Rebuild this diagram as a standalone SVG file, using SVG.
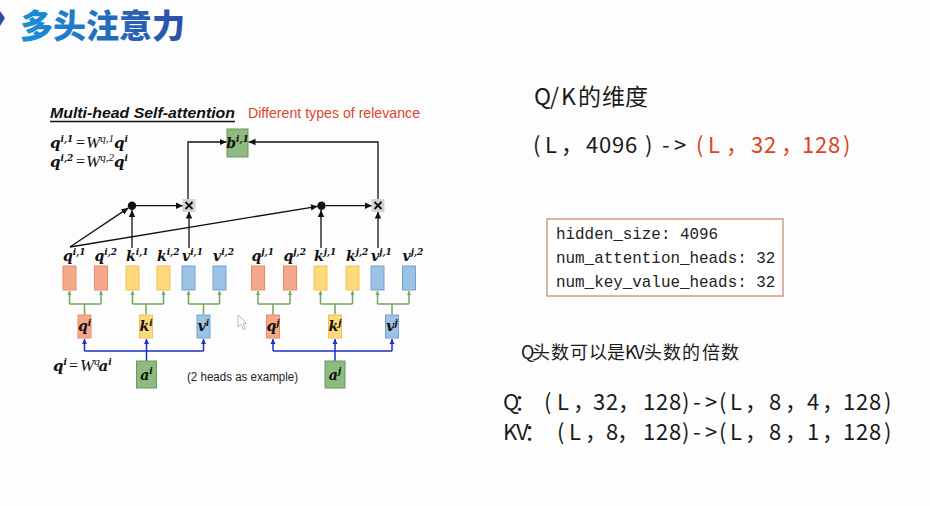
<svg xmlns="http://www.w3.org/2000/svg" width="930" height="506" viewBox="0 0 930 506">
<defs>
<linearGradient id="tg" x1="20" y1="0" x2="186" y2="0" gradientUnits="userSpaceOnUse"><stop offset="0" stop-color="#1a8fd8"/><stop offset="1" stop-color="#2c4ea6"/></linearGradient>
<marker id="ak" markerUnits="userSpaceOnUse" markerWidth="8" markerHeight="8" refX="7" refY="4" orient="auto"><path d="M0,0.8 L7,4 L0,7.2 Z" fill="#111"/></marker>
<marker id="ag" markerUnits="userSpaceOnUse" markerWidth="5" markerHeight="5" refX="4" refY="2.5" orient="auto"><path d="M0,0.5 L4,2.5 L0,4.5 Z" fill="#77a55e"/></marker>
<marker id="ab" markerUnits="userSpaceOnUse" markerWidth="6" markerHeight="6" refX="5" refY="3" orient="auto"><path d="M0,0.5 L5,3 L0,5.5 Z" fill="#1c2fc4"/></marker>
</defs>
<style>
.m{font-family:"DejaVu Serif","Liberation Serif",serif;font-weight:bold;font-style:italic;font-size:14px;fill:#111}
.f{font-size:15px}
.s{font-size:9px}
.w{font-family:"Liberation Serif",serif;font-weight:normal;font-size:17px}
.ws{font-family:"Liberation Serif",serif;font-weight:normal;font-size:11px}
.eq{font-family:"Liberation Serif",serif;font-style:normal;font-weight:normal;font-size:16px}
.qb{fill:#f5a98a;stroke:#e88c66;stroke-width:1}
.kb{fill:#ffd97c;stroke:#efc25a;stroke-width:1}
.vb{fill:#9cc2e6;stroke:#74a2d2;stroke-width:1}
.gb{fill:#8dba7e;stroke:#6b9a5d;stroke-width:1}
.xb{fill:#d3d3d3}
.ck{fill:none;stroke:#111;stroke-width:1.3}
.cg{fill:none;stroke:#77a55e;stroke-width:1.5}
.cb{fill:none;stroke:#1c2fc4;stroke-width:1.5}
.cjk{font-family:"Noto Sans CJK SC","Noto Sans",sans-serif;fill:#1a1a1a}
.mono{font-family:"Liberation Mono","DejaVu Sans Mono",monospace;font-size:15.9px;fill:#222}
.red{fill:#e0421c}
</style>
<rect width="930" height="506" fill="#fdfdfd"/>

<g id="header">
<path d="M0,11 L5,18 L0,26 Z" fill="#2c4ea6"/>
<text x="20" y="38" font-family="Noto Sans CJK SC, sans-serif" font-weight="900" font-size="33" fill="url(#tg)">多头注意力</text>
</g>

<g id="captions">
<text x="50" y="118" font-family="Liberation Sans, Arial, sans-serif" font-weight="bold" font-style="italic" font-size="15" fill="#111" textLength="185" lengthAdjust="spacingAndGlyphs">Multi-head Self-attention</text>
<line x1="50" y1="121.5" x2="235" y2="121.5" stroke="#111" stroke-width="1.3"/>
<text x="248" y="118" font-family="Liberation Sans, Arial, sans-serif" font-size="14" fill="#d9462a" textLength="172" lengthAdjust="spacingAndGlyphs">Different types of relevance</text>
<text class="m f" y="148"><tspan x="50">q</tspan><tspan class="s" dy="-6">i,1</tspan><tspan class="eq" x="76" dy="6">=</tspan><tspan class="w" x="86">W</tspan><tspan class="ws" dy="-6">q,1</tspan><tspan x="114" dy="6">q</tspan><tspan class="s" dy="-6">i</tspan></text>
<text class="m f" y="167"><tspan x="50">q</tspan><tspan class="s" dy="-6">i,2</tspan><tspan class="eq" x="76" dy="6">=</tspan><tspan class="w" x="86">W</tspan><tspan class="ws" dy="-6">q,2</tspan><tspan x="114" dy="6">q</tspan><tspan class="s" dy="-6">i</tspan></text>
<text class="m f" y="371"><tspan x="53">q</tspan><tspan class="s" dy="-6">i</tspan><tspan class="eq" x="69" dy="6">=</tspan><tspan class="w" x="80">W</tspan><tspan class="ws" dy="-6">q</tspan><tspan x="98.5" dy="6">a</tspan><tspan class="s" dy="-6">i</tspan></text>
<text x="187" y="381" font-family="Liberation Sans, Arial, sans-serif" font-size="12.5" fill="#222" textLength="111" lengthAdjust="spacingAndGlyphs">(2 heads as example)</text>
</g>

<g id="connectors">
<path class="ck" d="M70,247 L128.4,207.9" marker-end="url(#ak)"/>
<path class="ck" d="M70,247 L317.8,206.3" marker-end="url(#ak)"/>
<path class="ck" d="M132,248 L132,210" marker-end="url(#ak)"/>
<path class="ck" d="M189,248 L189,211.5" marker-end="url(#ak)"/>
<path class="ck" d="M321,248 L321,210" marker-end="url(#ak)"/>
<path class="ck" d="M378,248 L378,211.5" marker-end="url(#ak)"/>
<path class="ck" d="M136,205.7 L183,205.7" marker-end="url(#ak)"/>
<path class="ck" d="M326,205.7 L372,205.7" marker-end="url(#ak)"/>
<path class="ck" d="M188,199 L188,142 L226.5,142" marker-end="url(#ak)"/>
<path class="ck" d="M378,199 L378,142 L248.5,142" marker-end="url(#ak)"/>
<path class="cg" d="M84.5,314.5 V304 M69.5,304 H101"/>
<path class="cg" d="M69.5,304 V291" marker-end="url(#ag)"/>
<path class="cg" d="M101,304 V291" marker-end="url(#ag)"/>
<path class="cg" d="M146,314.5 V304 M132.5,304 H163.5"/>
<path class="cg" d="M132.5,304 V291" marker-end="url(#ag)"/>
<path class="cg" d="M163.5,304 V291" marker-end="url(#ag)"/>
<path class="cg" d="M203.5,314.5 V304 M188.5,304 H219.5"/>
<path class="cg" d="M188.5,304 V291" marker-end="url(#ag)"/>
<path class="cg" d="M219.5,304 V291" marker-end="url(#ag)"/>
<path class="cg" d="M273,314.5 V304 M258,304 H290"/>
<path class="cg" d="M258,304 V291" marker-end="url(#ag)"/>
<path class="cg" d="M290,304 V291" marker-end="url(#ag)"/>
<path class="cg" d="M335,314.5 V304 M320.5,304 H352.5"/>
<path class="cg" d="M320.5,304 V291" marker-end="url(#ag)"/>
<path class="cg" d="M352.5,304 V291" marker-end="url(#ag)"/>
<path class="cg" d="M392,314.5 V304 M377.5,304 H409"/>
<path class="cg" d="M377.5,304 V291" marker-end="url(#ag)"/>
<path class="cg" d="M409,304 V291" marker-end="url(#ag)"/>
<path class="cb" d="M84.5,351 H203.5"/>
<path class="cb" d="M84.5,351 V339" marker-end="url(#ab)"/>
<path class="cb" d="M146.5,361 V339" marker-end="url(#ab)"/>
<path class="cb" d="M203.5,351 V339" marker-end="url(#ab)"/>
<path class="cb" d="M273,351 H392"/>
<path class="cb" d="M273,351 V339" marker-end="url(#ab)"/>
<path class="cb" d="M335,361 V339" marker-end="url(#ab)"/>
<path class="cb" d="M392,351 V339" marker-end="url(#ab)"/>
</g>

<g id="dot-i"><circle cx="132" cy="205.7" r="4.2" fill="#111"/></g>
<g id="dot-j"><circle cx="321.5" cy="205.7" r="4.2" fill="#111"/></g>
<g id="mul-i"><rect class="xb" x="182.5" y="199" width="13" height="13"/><path d="M185.5,202 L192.5,209 M192.5,202 L185.5,209" stroke="#111" stroke-width="1.8"/></g>
<g id="mul-j"><rect class="xb" x="371.5" y="199" width="13" height="13"/><path d="M374.5,202 L381.5,209 M381.5,202 L374.5,209" stroke="#111" stroke-width="1.8"/></g>

<g id="b-i1"><rect class="gb" x="227" y="129" width="21" height="28"/><text class="m" x="237.5" y="148" text-anchor="middle">b<tspan class="s" dy="-6">i,1</tspan></text></g>

<g id="q-i1"><rect class="qb" x="63" y="266" width="13" height="24"/><text class="m" x="63" y="261">q<tspan class="s" dy="-6">i,1</tspan></text></g>
<g id="q-i2"><rect class="qb" x="94.5" y="266" width="13" height="24"/><text class="m" x="94.5" y="261">q<tspan class="s" dy="-6">i,2</tspan></text></g>
<g id="k-i1"><rect class="kb" x="126" y="266" width="13" height="24"/><text class="m" x="126" y="261">k<tspan class="s" dy="-6">i,1</tspan></text></g>
<g id="k-i2"><rect class="kb" x="157" y="266" width="13" height="24"/><text class="m" x="157" y="261">k<tspan class="s" dy="-6">i,2</tspan></text></g>
<g id="v-i1"><rect class="vb" x="182" y="266" width="13" height="24"/><text class="m" x="182" y="261">v<tspan class="s" dy="-6">i,1</tspan></text></g>
<g id="v-i2"><rect class="vb" x="213" y="266" width="13" height="24"/><text class="m" x="213" y="261">v<tspan class="s" dy="-6">i,2</tspan></text></g>
<g id="q-j1"><rect class="qb" x="251.5" y="266" width="13" height="24"/><text class="m" x="251.5" y="261">q<tspan class="s" dy="-6">j,1</tspan></text></g>
<g id="q-j2"><rect class="qb" x="283.5" y="266" width="13" height="24"/><text class="m" x="283.5" y="261">q<tspan class="s" dy="-6">j,2</tspan></text></g>
<g id="k-j1"><rect class="kb" x="314" y="266" width="13" height="24"/><text class="m" x="314" y="261">k<tspan class="s" dy="-6">j,1</tspan></text></g>
<g id="k-j2"><rect class="kb" x="346" y="266" width="13" height="24"/><text class="m" x="346" y="261">k<tspan class="s" dy="-6">j,2</tspan></text></g>
<g id="v-j1"><rect class="vb" x="371" y="266" width="13" height="24"/><text class="m" x="371" y="261">v<tspan class="s" dy="-6">j,1</tspan></text></g>
<g id="v-j2"><rect class="vb" x="402.5" y="266" width="13" height="24"/><text class="m" x="402.5" y="261">v<tspan class="s" dy="-6">j,2</tspan></text></g>

<g id="q-i"><rect class="qb" x="78" y="315" width="13" height="23"/><text class="m" x="84.5" y="331" text-anchor="middle" font-size="13">q<tspan class="s" dy="-5">i</tspan></text></g>
<g id="k-i"><rect class="kb" x="139.5" y="315" width="13" height="23"/><text class="m" x="146" y="331" text-anchor="middle" font-size="13">k<tspan class="s" dy="-5">i</tspan></text></g>
<g id="v-i"><rect class="vb" x="197" y="315" width="13" height="23"/><text class="m" x="203.5" y="331" text-anchor="middle" font-size="13">v<tspan class="s" dy="-5">i</tspan></text></g>
<g id="q-j"><rect class="qb" x="266.5" y="315" width="13" height="23"/><text class="m" x="273" y="331" text-anchor="middle" font-size="13">q<tspan class="s" dy="-5">j</tspan></text></g>
<g id="k-j"><rect class="kb" x="328.5" y="315" width="13" height="23"/><text class="m" x="335" y="331" text-anchor="middle" font-size="13">k<tspan class="s" dy="-5">j</tspan></text></g>
<g id="v-j"><rect class="vb" x="385.5" y="315" width="13" height="23"/><text class="m" x="392" y="331" text-anchor="middle" font-size="13">v<tspan class="s" dy="-5">j</tspan></text></g>

<g id="a-i"><rect class="gb" x="136.5" y="361" width="20" height="27"/><text class="m" x="146.5" y="380" text-anchor="middle">a<tspan class="s" dy="-6">i</tspan></text></g>
<g id="a-j"><rect class="gb" x="325" y="361" width="20" height="27"/><text class="m" x="335" y="380" text-anchor="middle">a<tspan class="s" dy="-6">j</tspan></text></g>

<g id="cursor"><path d="M238,315 L238,327 L241,324.5 L243.5,329.5 L245.5,328.5 L243,323.5 L246.5,323.5 Z" fill="#fff" stroke="#aaa" stroke-width="0.8"/></g>

<g id="right-notes">
<text class="cjk" y="105" font-size="23" x="534 550 561 578 602 625">Q/K的维度</text>
<text class="cjk" y="153" font-size="22" x="533 545 561 586 599 612 625 645 662 674">(L，4096)-&gt;</text>
<text class="cjk red" y="153" font-size="22" x="696 708 726 751 764 781 802 815 828 843">(L，32，128)</text>
</g>

<g id="config-box">
<rect x="547" y="219" width="236" height="77" fill="#fff" stroke="#c8806a" stroke-width="1.2"/>
<text class="mono" x="556" y="239">hidden_size: 4096</text>
<text class="mono" x="556" y="263">num_attention_heads: 32</text>
<text class="mono" x="556" y="287">num_key_value_heads: 32</text>
</g>

<g id="gqa-notes">
<text class="cjk" y="359" font-size="18" x="521 532 551 570 589 607 625 634.5 644 663 682 702 721">Q头数可以是KV头数的倍数</text>
<text class="cjk" y="410" font-size="22" x="503 514 544 557 573 593 606 618 643 656 669 682 693 705 719 730 745 769 785 807 822 843 856 869 884">Q：(L，32，128)-&gt;(L，8，4，128)</text>
<text class="cjk" y="440" font-size="22" x="503 516 524 557 569 585 606 617 643 656 669 682 693 705 719 730 745 769 785 807 822 843 856 869 884">KV：(L，8，128)-&gt;(L，8，1，128)</text>
</g>
</svg>
